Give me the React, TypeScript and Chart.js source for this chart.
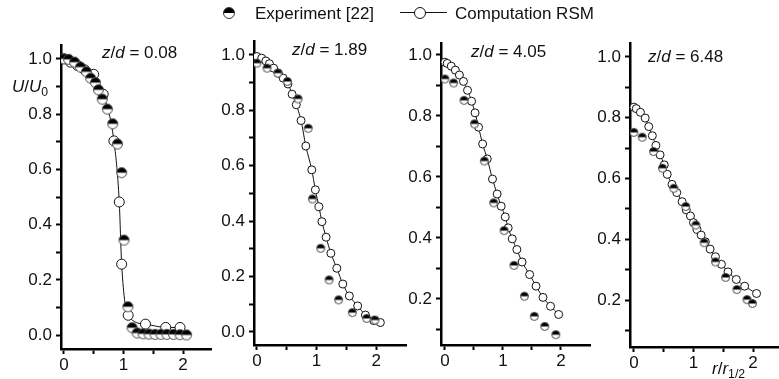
import React, { useEffect, useRef } from "react";
import { Chart, registerables } from "chart.js";

Chart.register(...registerables);

// ---------- data ----------
const LEGEND_EXP = "Experiment [22]";
const LEGEND_COMP = "Computation RSM";
const PANEL_LABELS = ["0.08", "1.89", "4.05", "6.48"];

const X_TICKS = [0, 0.5, 1, 1.5, 2];
const Y_TICKS_FULL = [0, 0.1, 0.2, 0.3, 0.4, 0.5, 0.6, 0.7, 0.8, 0.9, 1.0];
const Y_TICKS_UPPER = [0.1, 0.2, 0.3, 0.4, 0.5, 0.6, 0.7, 0.8, 0.9, 1.0];

// z/d = 0.08
const P1_EXP_X = [0, 0.08, 0.18, 0.28, 0.38, 0.45, 0.53, 0.58, 0.645, 0.73, 0.82, 0.9, 0.97, 1.01, 1.075, 1.145, 1.23, 1.33, 1.43, 1.53, 1.63, 1.73, 1.84, 1.95, 2.06];
const P1_EXP_Y = [1.0, 0.998, 0.988, 0.97, 0.953, 0.93, 0.914, 0.888, 0.854, 0.818, 0.765, 0.692, 0.588, 0.344, 0.103, 0.027, 0.008, 0.005, 0.004, 0.003, 0.003, 0.003, 0.003, 0.002, 0.001];
const P1_COMP_X = [0, 0.11, 0.23, 0.35, 0.5, 0.66, 0.84, 0.93, 0.97, 1.08, 1.37, 1.71, 1.95];
const P1_COMP_Y = [1.0, 0.988, 0.976, 0.96, 0.944, 0.872, 0.703, 0.482, 0.257, 0.072, 0.04, 0.028, 0.028];

// z/d = 1.89
const P2_EXP_X = [0, 0.17, 0.35, 0.51, 0.69, 0.86, 0.93, 1.07, 1.21, 1.37, 1.6, 1.84, 1.98];
const P2_EXP_Y = [0.97, 0.952, 0.934, 0.904, 0.841, 0.735, 0.48, 0.302, 0.188, 0.116, 0.07, 0.049, 0.043];
const P2_COMP_X = [0, 0.08, 0.15, 0.21, 0.28, 0.36, 0.44, 0.52, 0.59, 0.66, 0.74, 0.82, 0.92, 0.98, 1.04, 1.09, 1.16, 1.24, 1.34, 1.44, 1.55, 1.69, 1.82, 1.96, 2.07];
const P2_COMP_Y = [0.994, 0.988, 0.978, 0.968, 0.952, 0.934, 0.916, 0.895, 0.858, 0.82, 0.763, 0.671, 0.585, 0.513, 0.452, 0.398, 0.342, 0.284, 0.23, 0.173, 0.13, 0.094, 0.061, 0.041, 0.034];

// z/d = 4.05
const P3_EXP_X = [0, 0.15, 0.33, 0.51, 0.68, 0.84, 1.02, 1.19, 1.37, 1.54, 1.72, 1.91];
const P3_EXP_Y = [0.921, 0.908, 0.851, 0.774, 0.652, 0.515, 0.424, 0.31, 0.209, 0.143, 0.11, 0.083];
const P3_COMP_X = [0, 0.04, 0.11, 0.18, 0.25, 0.32, 0.39, 0.46, 0.52, 0.58, 0.65, 0.73, 0.82, 0.9, 0.97, 1.04, 1.09, 1.16, 1.24, 1.33, 1.46, 1.57, 1.69, 1.82, 1.96];
const P3_COMP_Y = [0.976, 0.972, 0.963, 0.95, 0.934, 0.913, 0.884, 0.848, 0.81, 0.763, 0.708, 0.659, 0.593, 0.544, 0.504, 0.469, 0.433, 0.397, 0.362, 0.321, 0.28, 0.242, 0.205, 0.176, 0.149];

// z/d = 6.48
const P4_EXP_X = [0, 0.14, 0.33, 0.48, 0.67, 0.87, 1.04, 1.18, 1.37, 1.54, 1.73, 1.9, 1.99];
const P4_EXP_Y = [0.752, 0.736, 0.689, 0.634, 0.568, 0.508, 0.447, 0.389, 0.326, 0.275, 0.235, 0.202, 0.189];
const P4_COMP_X = [0, 0.04, 0.11, 0.19, 0.25, 0.31, 0.37, 0.44, 0.51, 0.56, 0.64, 0.72, 0.81, 0.88, 0.95, 1.0, 1.06, 1.13, 1.2, 1.28, 1.37, 1.47, 1.58, 1.72, 1.86, 2.06];
const P4_COMP_Y = [0.835, 0.83, 0.818, 0.799, 0.771, 0.741, 0.709, 0.678, 0.645, 0.614, 0.581, 0.554, 0.524, 0.497, 0.477, 0.455, 0.433, 0.414, 0.392, 0.368, 0.343, 0.318, 0.293, 0.268, 0.246, 0.222];

// ---------- layout ----------
const FONT = '"Liberation Sans", Arial, Helvetica, sans-serif';
const Y_AXIS_W = 60;
const X_AXIS_H = 30;
const PAD_TOP = 20;

type PanelCfg = {
  axisX: number; top: number; width: number; height: number;
  xMin: number; xMax: number; yMin: number; yMax: number;
  yTicks: number[]; expX: number[]; expY: number[]; compX: number[]; compY: number[];
  r: number;
};

const PANELS: PanelCfg[] = [
  { axisX: 61, top: 45, width: 156, height: 304, xMin: -0.048, xMax: 2.47, yMin: -0.05, yMax: 1.05, yTicks: Y_TICKS_FULL, expX: P1_EXP_X, expY: P1_EXP_Y, compX: P1_COMP_X, compY: P1_COMP_Y, r: 5 },
  { axisX: 254, top: 41, width: 157, height: 304, xMin: -0.049, xMax: 2.5, yMin: -0.047, yMax: 1.05, yTicks: Y_TICKS_FULL, expX: P2_EXP_X, expY: P2_EXP_Y, compX: P2_COMP_X, compY: P2_COMP_Y, r: 4 },
  { axisX: 441, top: 43, width: 154, height: 302, xMin: -0.067, xMax: 2.5, yMin: 0.049, yMax: 1.039, yTicks: Y_TICKS_UPPER, expX: P3_EXP_X, expY: P3_EXP_Y, compX: P3_COMP_X, compY: P3_COMP_Y, r: 4 },
  { axisX: 630, top: 43, width: 156, height: 304, xMin: -0.065, xMax: 2.47, yMin: 0.046, yMax: 1.046, yTicks: Y_TICKS_UPPER, expX: P4_EXP_X, expY: P4_EXP_Y, compX: P4_COMP_X, compY: P4_COMP_Y, r: 4 },
];

const LABEL_POS = [
  { left: 102, top: 44 },
  { left: 292, top: 41 },
  { left: 471, top: 43 },
  { left: 648, top: 48 },
];

function halfMarker(r: number): HTMLCanvasElement {
  const s = Math.ceil(2 * r + 3);
  const c = document.createElement("canvas");
  c.width = s;
  c.height = s;
  const g = c.getContext("2d")!;
  const cx = s / 2;
  g.beginPath();
  g.arc(cx, cx, r, 0, Math.PI * 2);
  g.fillStyle = "#fff";
  g.fill();
  g.beginPath();
  g.arc(cx, cx, r, Math.PI, Math.PI * 2);
  g.closePath();
  g.fillStyle = "#000";
  g.fill();
  g.beginPath();
  g.arc(cx, cx, r, 0, Math.PI * 2);
  g.strokeStyle = "#444";
  g.lineWidth = 1;
  g.stroke();
  return c;
}

function makeChart(canvas: HTMLCanvasElement, p: PanelCfg): Chart {
  const tickFont = { family: FONT, size: 17 };
  return new Chart(canvas, {
    type: "scatter",
    data: {
      datasets: [
        {
          label: LEGEND_EXP,
          data: p.expX.map((x, i) => ({ x, y: p.expY[i] })),
          showLine: false,
          pointStyle: halfMarker(p.r) as any,
          pointRadius: p.r,
        },
        {
          label: LEGEND_COMP,
          data: p.compX.map((x, i) => ({ x, y: p.compY[i] })),
          showLine: true,
          borderColor: "#111",
          borderWidth: 1,
          cubicInterpolationMode: "monotone",
          pointStyle: "circle",
          pointRadius: p.r,
          pointBackgroundColor: "#fff",
          pointBorderColor: "#111",
          pointBorderWidth: 1,
        },
      ],
    },
    options: {
      animation: false,
      responsive: false,
      maintainAspectRatio: false,
      events: [],
      layout: { padding: { top: PAD_TOP, left: 0, right: 0, bottom: 0 } },
      plugins: { legend: { display: false }, tooltip: { enabled: false } },
      scales: {
        x: {
          type: "linear",
          min: p.xMin,
          max: p.xMax,
          afterFit: (s: any) => { s.height = X_AXIS_H; },
          afterBuildTicks: (s: any) => { s.ticks = X_TICKS.map((v) => ({ value: v })); },
          ticks: {
            autoSkip: false,
            maxRotation: 0,
            padding: 1,
            color: "#111",
            font: tickFont,
            callback: (v: any) => (Math.abs(v - Math.round(v)) < 1e-9 ? String(Math.round(v)) : ""),
          },
          grid: { display: true, drawOnChartArea: false, drawTicks: true, tickLength: 5, tickWidth: 2, tickColor: "#000" },
          border: { display: true, color: "#000", width: 2.5 },
        },
        y: {
          type: "linear",
          min: p.yMin,
          max: p.yMax,
          afterFit: (s: any) => { s.width = Y_AXIS_W; },
          afterBuildTicks: (s: any) => { s.ticks = p.yTicks.map((v) => ({ value: v })); },
          ticks: {
            autoSkip: false,
            padding: 4,
            color: "#111",
            font: tickFont,
            callback: (v: any) => (Math.round(v * 10) % 2 === 0 ? Number(v).toFixed(1) : ""),
          },
          grid: { display: true, drawOnChartArea: false, drawTicks: true, tickLength: 5, tickWidth: 2, tickColor: "#000" },
          border: { display: true, color: "#000", width: 2.5 },
        },
      },
    } as any,
  });
}

const txt: React.CSSProperties = {
  position: "absolute",
  fontFamily: FONT,
  fontSize: 17,
  lineHeight: "17px",
  color: "#111",
  whiteSpace: "nowrap",
};

const sub: React.CSSProperties = { fontSize: "0.72em", fontStyle: "normal", position: "relative", top: "0.35em" };

export default function App() {
  const refs = useRef<(HTMLCanvasElement | null)[]>([]);

  useEffect(() => {
    const charts = PANELS.map((p, i) => makeChart(refs.current[i]!, p));
    return () => charts.forEach((c) => c.destroy());
  }, []);

  return (
    <div style={{ position: "fixed", left: 0, top: 0, width: 779, height: 379, overflow: "hidden", background: "#fff" }}>
      {PANELS.map((p, i) => {
        const w = Y_AXIS_W + p.width;
        const h = PAD_TOP + p.height + X_AXIS_H;
        return (
          <canvas
            key={i}
            ref={(el) => { refs.current[i] = el; }}
            width={w}
            height={h}
            style={{ position: "absolute", left: p.axisX - Y_AXIS_W, top: p.top - PAD_TOP, width: w, height: h }}
          />
        );
      })}

      {/* legend */}
      <div
        style={{
          position: "absolute", left: 223, top: 7, width: 12, height: 12, borderRadius: "50%",
          border: "1px solid #333", boxSizing: "border-box",
          background: "linear-gradient(to bottom, #000 50%, #fff 50%)",
        }}
      />
      <div style={{ ...txt, left: 255, top: 4.5 }}>{LEGEND_EXP}</div>
      <div style={{ position: "absolute", left: 400, top: 12, width: 47, height: 1, background: "#111" }} />
      <div
        style={{
          position: "absolute", left: 414, top: 7, width: 12, height: 12, borderRadius: "50%",
          border: "1px solid #111", boxSizing: "border-box", background: "#fff",
        }}
      />
      <div style={{ ...txt, left: 455, top: 4.5 }}>{LEGEND_COMP}</div>

      {/* panel labels */}
      {PANEL_LABELS.map((v, i) => (
        <div key={i} style={{ ...txt, left: LABEL_POS[i].left, top: LABEL_POS[i].top }}>
          <i>z</i>/<i>d</i> = {v}
        </div>
      ))}

      {/* y-axis title */}
      <div style={{ ...txt, left: 12, top: 77.5 }}>
        <i>U</i>/<i>U</i><span style={sub}>0</span>
      </div>

      {/* x-axis title */}
      <div style={{ ...txt, left: 712, top: 359.5 }}>
        <i>r</i>/<i>r</i><span style={sub}>1/2</span>
      </div>
    </div>
  );
}
